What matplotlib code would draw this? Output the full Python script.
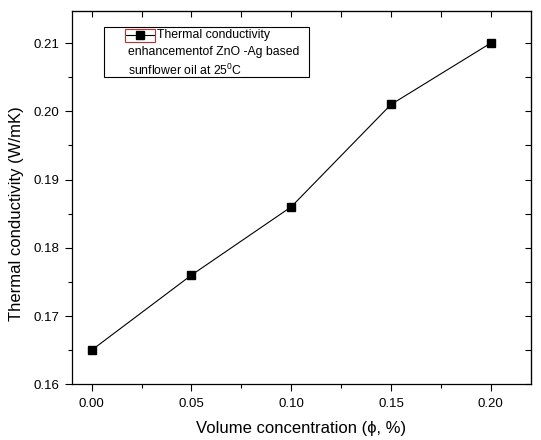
import matplotlib
matplotlib.use("Agg")
from matplotlib import pyplot as plt
from matplotlib.patches import Rectangle
from matplotlib.lines import Line2D
from matplotlib.ticker import MultipleLocator

# datos
concentracion = [0.00, 0.05, 0.10, 0.15, 0.20]
conductividad = [0.165, 0.176, 0.186, 0.201, 0.210]

leyenda = ["Thermal conductivity",
           "enhancementof ZnO -Ag based",
           "sunflower oil at 25$^\\mathregular{0}$C"]

plt.rcParams['font.family'] = ['Liberation Sans', 'DejaVu Sans']

fig = plt.figure(figsize=(5.41, 4.40), dpi=100)
ax = fig.add_axes([0.1325, 0.1266, 0.8485, 0.8484])

ax.plot(concentracion, conductividad, color="black", linewidth=0.8,
        marker="s", markersize=6, markerfacecolor="black", markeredgecolor="black")

ax.set_xlim(-0.01, 0.22)
ax.set_ylim(0.16, 0.2147)
ax.xaxis.set_major_locator(MultipleLocator(0.05))
ax.xaxis.set_minor_locator(MultipleLocator(0.025))
ax.yaxis.set_major_locator(MultipleLocator(0.01))
ax.yaxis.set_minor_locator(MultipleLocator(0.005))
ax.xaxis.set_major_formatter(lambda v, p: "%.2f" % v)
ax.yaxis.set_major_formatter(lambda v, p: "%.2f" % v)

ax.tick_params(axis="both", which="major", labelsize=9.5, color="black", width=0.8)
ax.tick_params(axis="x", which="major", direction="out", length=5, pad=5)
ax.tick_params(axis="x", which="minor", direction="out", length=3, width=0.8)
ax.tick_params(axis="y", which="major", direction="out", length=5, pad=4)
ax.tick_params(axis="y", which="minor", direction="out", length=3, width=0.8)

# ticks de arriba y derecha hacia adentro
sec_x = ax.secondary_xaxis("top")
sec_x.xaxis.set_major_locator(MultipleLocator(0.05))
sec_x.xaxis.set_minor_locator(MultipleLocator(0.025))
sec_x.tick_params(which="both", direction="in", length=4, width=0.8, labeltop=False)
sec_y = ax.secondary_yaxis("right")
sec_y.yaxis.set_major_locator(MultipleLocator(0.01))
sec_y.yaxis.set_minor_locator(MultipleLocator(0.005))
sec_y.tick_params(which="both", direction="in", length=4, width=0.8, labelright=False)

for s in ax.spines.values():
    s.set_linewidth(0.9)

ax.set_xlabel("Volume concentration (\u03d5, %)", fontsize=12, labelpad=8)
ax.set_ylabel("Thermal conductivity (W/mK)", fontsize=12)
ax.yaxis.set_label_coords(-0.104, 0.4575)

# leyenda dibujada a mano
ax.add_patch(Rectangle((0.071, 0.8224), 0.4466, 0.1339, transform=ax.transAxes,
                       fill=False, edgecolor="black", linewidth=0.8))
ax.add_patch(Rectangle((0.116, 0.917), 0.0655, 0.034, transform=ax.transAxes,
                       fill=False, edgecolor="#c03030", linewidth=0.8))
ax.add_line(Line2D([0.118, 0.1795], [0.9357, 0.9357], transform=ax.transAxes,
                   color="black", linewidth=0.8))
ax.add_line(Line2D([0.149], [0.9357], transform=ax.transAxes, marker="s",
                   markersize=6, color="black"))
ax.text(0.185, 0.9357, leyenda[0], transform=ax.transAxes, fontsize=8.8, va="center")
ax.text(0.1233, 0.890, leyenda[1], transform=ax.transAxes, fontsize=8.8, va="center")
ax.text(0.1233, 0.842, leyenda[2], transform=ax.transAxes, fontsize=8.8, va="center")

fig.savefig("out.png", dpi=100)
